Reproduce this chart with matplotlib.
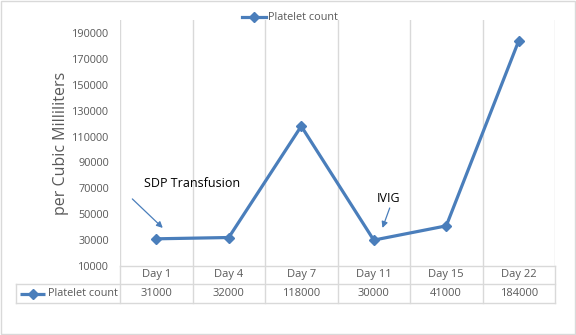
import matplotlib.pyplot as plt
from matplotlib.lines import Line2D
from matplotlib.patches import Rectangle

days = ['Day 1', 'Day 4', 'Day 7', 'Day 11', 'Day 15', 'Day 22']
platelets = [31000, 32000, 118000, 30000, 41000, 184000]
yticks = list(range(10000, 200000, 20000))
series_name = 'Platelet count'

blue = '#4a7ebb'
grid = '#d9d9d9'
txt = '#595959'

plt.rcParams['font.family'] = ['Open Sans', 'DejaVu Sans']

W, H = 576, 335
fig = plt.figure(figsize=(W / 100, H / 100), dpi=100)

def fx(px):
    return px / W

def fy(py):
    return 1 - py / H

# plot area
left, right, top, bottom = 120, 555, 20, 266
ax = fig.add_axes([fx(left), fy(bottom), fx(right - left), fy(top) - fy(bottom)])
x = list(range(len(days)))
ax.plot(x, platelets, color=blue, lw=2.3, marker='D', ms=5.5,
        label=series_name, solid_joinstyle='miter')
ax.set_xlim(-0.5, len(days) - 0.5)
ax.set_ylim(10000, 200000)
ax.set_yticks(yticks)
ax.set_yticklabels([str(v) for v in yticks], fontsize=7.8, color=txt)
ax.tick_params(axis='y', length=0, pad=8)
ax.set_xticks([])
for s in ax.spines.values():
    s.set_visible(False)
for b in range(len(days) + 1):
    ax.axvline(b - 0.5, color=grid, lw=1, zorder=0)
ax.set_ylabel('per Cubic Milliliters', fontsize=11.5, color=txt, labelpad=2)

# annotations
ax.text(0.5, 73400, 'SDP Transfusion', ha='center', va='center',
        fontsize=9, color='black')
ax.annotate('', xy=(0.09, 39400), xytext=(-0.33, 61800),
            arrowprops=dict(arrowstyle='-|>', color=blue, lw=0.9,
                            mutation_scale=9, shrinkA=0, shrinkB=0))
ax.text(3.21, 61800, 'IVIG', ha='center', va='center', fontsize=9,
        color='black')
ax.annotate('', xy=(3.12, 39400), xytext=(3.22, 54800),
            arrowprops=dict(arrowstyle='-|>', color=blue, lw=0.9,
                            mutation_scale=9, shrinkA=0, shrinkB=0))

# legend on top
fig.legend(loc='center', bbox_to_anchor=(fx(290), fy(18)), frameon=False,
           fontsize=7.8, labelcolor=txt, handlelength=2.2, handletextpad=0.2,
           borderpad=0)

# data table under the plot area
row1, row2, row3 = 266, 284, 303
tleft = 16
col_w = (right - left) / len(days)
lines = [
    ((left, right), (row1, row1)),
    ((tleft, right), (row2, row2)),
    ((tleft, right), (row3, row3)),
    ((tleft, tleft), (row2, row3)),
]
for i in range(len(days) + 1):
    xc = left + i * col_w
    lines.append(((xc, xc), (row1, row3)))
for (xs, ys) in lines:
    fig.add_artist(Line2D([fx(v) for v in xs], [fy(v) for v in ys],
                          color=grid, lw=1))
for i, (d, v) in enumerate(zip(days, platelets)):
    xc = fx(left + (i + 0.5) * col_w)
    fig.text(xc, fy((row1 + row2) / 2), d, ha='center', va='center',
             fontsize=8, color=txt)
    fig.text(xc, fy((row2 + row3) / 2), str(v), ha='center', va='center',
             fontsize=8, color=txt)
ym = fy((row2 + row3) / 2)
fig.add_artist(Line2D([fx(20), fx(45)], [ym, ym], color=blue, lw=2.3,
                      solid_capstyle='butt'))
fig.add_artist(Line2D([fx(32.5)], [ym], color=blue, marker='D', ms=5.5, lw=0))
fig.text(fx(48), ym, series_name, ha='left', va='center', fontsize=7.8,
         color=txt)

# outer border
fig.add_artist(Rectangle((0.001, 0.002), 0.997, 0.996, transform=fig.transFigure,
                         fill=False, edgecolor=grid, lw=1))

fig.savefig('out.png', dpi=100)
